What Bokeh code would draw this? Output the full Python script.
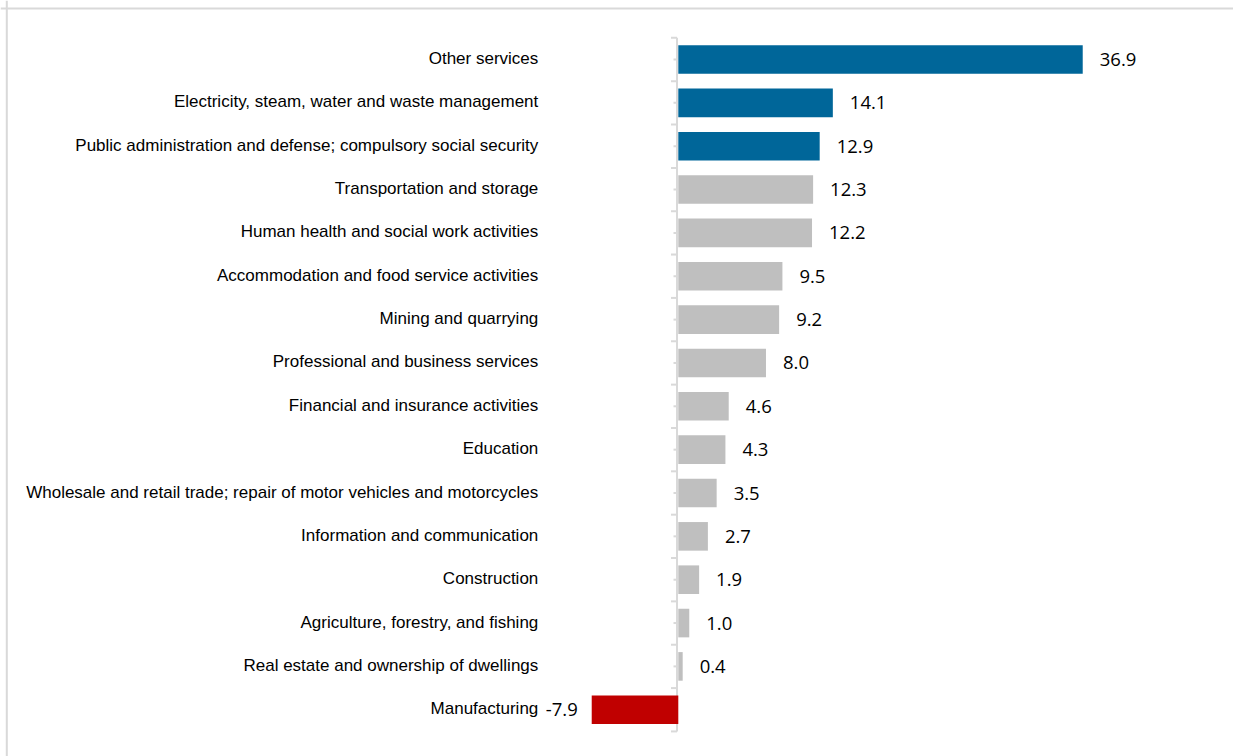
from bokeh.plotting import figure
from bokeh.models import Range1d, ColumnDataSource, Span
from bokeh.core.properties import value
from bokeh.embed import file_html
from bokeh.resources import INLINE

categories = [
    "Other services",
    "Electricity, steam, water and waste management",
    "Public administration and defense; compulsory social security",
    "Transportation and storage",
    "Human health and social work activities",
    "Accommodation and food service activities",
    "Mining and quarrying",
    "Professional and business services",
    "Financial and insurance activities",
    "Education",
    "Wholesale and retail trade; repair of motor vehicles and motorcycles",
    "Information and communication",
    "Construction",
    "Agriculture, forestry, and fishing",
    "Real estate and ownership of dwellings",
    "Manufacturing",
]
values = [36.9, 14.1, 12.9, 12.3, 12.2, 9.5, 9.2, 8.0, 4.6, 4.3, 3.5, 2.7, 1.9, 1.0, 0.4, -7.9]
highlight = ["top", "top", "top"] + ["other"] * 12 + ["neg"]
palette = {"top": "#006699", "other": "#BFBFBF", "neg": "#C00000"}

W, H = 1233, 756
zero_px = 677.8          # pixel of value 0
scale = 10.96            # pixels per unit
first_px = 59.0          # pixel centre of first row
row = 43.35              # pixels per row

x_start = -zero_px / scale
x_end = (W - zero_px) / scale
y_top = -first_px / row
y_bot = y_top + H / row

p = figure(width=W, height=H, output_backend="svg", toolbar_location=None,
           x_range=Range1d(x_start, x_end), y_range=Range1d(y_bot, y_top),
           min_border=0, min_border_left=0, min_border_right=0,
           min_border_top=0, min_border_bottom=0)
p.xaxis.visible = False
p.yaxis.visible = False
p.xgrid.visible = False
p.ygrid.visible = False
p.outline_line_color = None
p.background_fill_color = "white"
p.border_fill_color = "white"

# outer border (top and left)
p.add_layout(Span(location=x_start + 6.3 / scale, dimension="height", line_color="#D9D9D9", line_width=2))
p.add_layout(Span(location=y_top + 8.0 / row, dimension="width", line_color="#D9D9D9", line_width=2))

n = len(categories)
idx = list(range(n))

# category axis line and ticks
axis_x = -1.3 / scale
p.segment(x0=[axis_x], y0=[-0.5], x1=[axis_x], y1=[n - 0.5], line_color="#D9D9D9", line_width=2)
bt = [i - 0.5 for i in range(n + 1)]
p.segment(x0=[axis_x - 6 / scale] * len(bt), y0=bt, x1=[axis_x] * len(bt), y1=bt,
          line_color="#D9D9D9", line_width=2)
p.segment(x0=[axis_x - 3.5 / scale] * n, y0=idx, x1=[axis_x] * n, y1=idx,
          line_color="#D9D9D9", line_width=2)

src = ColumnDataSource(dict(
    y=idx,
    left=[min(0, v) for v in values],
    right=[max(0, v) for v in values],
    v=values,
    color=[palette[h] for h in highlight],
    cat=categories,
    lab=["{:.1f}".format(v) for v in values],
))
p.hbar(y="y", left="left", right="right", height=0.66, fill_color="color", line_color=None, source=src)

# category labels
p.text(x=[0] * n, y=idx, text=categories, x_offset=-140, y_offset=-1, text_align="right",
       text_baseline="middle", text_font=value("Liberation Sans"), text_font_size="17px",
       text_color="#000000")

# value labels
pos = [i for i, v in enumerate(values) if v >= 0]
neg = [i for i, v in enumerate(values) if v < 0]
p.text(x=[values[i] for i in pos], y=pos, text=["{:.1f}".format(values[i]) for i in pos],
       x_offset=17, text_align="left", text_baseline="middle",
       text_font=value("Open Sans"), text_font_size="18.5px", text_color="#000000")
p.text(x=[values[i] for i in neg], y=neg, text=["{:.1f}".format(values[i]) for i in neg],
       x_offset=-14, text_align="right", text_baseline="middle",
       text_font=value("Open Sans"), text_font_size="18.5px", text_color="#000000")

open("out.html", "w").write(file_html(p, INLINE))
